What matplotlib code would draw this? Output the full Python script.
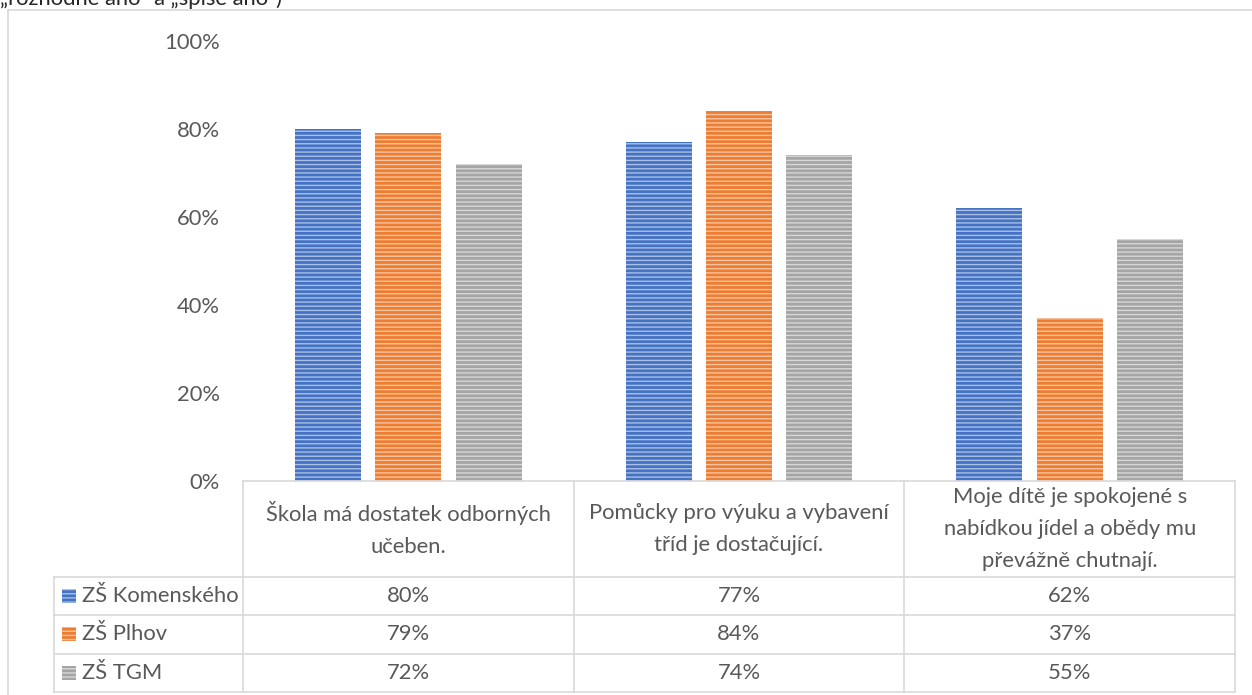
import matplotlib
matplotlib.use("Agg")
import matplotlib.pyplot as plt
from matplotlib.patches import Rectangle
from matplotlib.lines import Line2D
from matplotlib.colors import to_rgb
import numpy as np

# ---- data ----
categories = [
    "Škola má dostatek odborných\nučeben.",
    "Pomůcky pro výuku a vybavení\ntříd je dostačující.",
    "Moje dítě je spokojené s\nnabídkou jídel a obědy mu\npřevážně chutnají.",
]
series_names = ["ZŠ Komenského", "ZŠ Plhov", "ZŠ TGM"]
komenskeho = [0.80, 0.77, 0.62]
plhov = [0.79, 0.84, 0.37]
tgm = [0.72, 0.74, 0.55]
series_values = [komenskeho, plhov, tgm]
y_ticks = [0, 0.2, 0.4, 0.6, 0.8, 1.0]
y_tick_labels = ["0%", "20%", "40%", "60%", "80%", "100%"]
top_caption = "„rozhodně ano“ a „spíše ano“)"

colors = ["#4472C4", "#ED7D31", "#A5A5A5"]
text_color = "#595959"
grid_color = "#D9D9D9"

def lighten(c, f=0.55):
    r, g, b = to_rgb(c)
    return (r + (1 - r) * f, g + (1 - g) * f, b + (1 - b) * f)

plt.rcParams['font.family'] = ['Lato', 'DejaVu Sans']
plt.rcParams['hatch.linewidth'] = 1.0
FS = 15.8

W, H = 1252, 695
fig = plt.figure(figsize=(W / 100, H / 100), dpi=100)

def fx(px):
    return px / W

def fy(py):
    return 1 - py / H

# outer chart border (left and top, the rest is cropped)
fig.add_artist(Line2D([fx(8), fx(8)], [fy(10), 0], color=grid_color, lw=1.2))
fig.add_artist(Line2D([fx(8), 1], [fy(10), fy(10)], color=grid_color, lw=1.2))
fig.text(fx(0), fy(5), top_caption, fontsize=FS, color="#262626",
         ha="left", va="baseline")

# ---- bar axes ----
L, R, T, B = 243, 1235, 41, 481
ax = fig.add_axes([fx(L), fy(B), fx(R - L), (B - T) / H])
ax.set_xlim(-0.5, len(categories) - 0.5)
ax.set_ylim(0, 1)
x = np.arange(len(categories))
bw = 0.2
step = 0.243
for i, (name, vals) in enumerate(zip(series_names, series_values)):
    ax.bar(x + (i - 1) * step, vals, width=bw, color=colors[i],
           edgecolor=lighten(colors[i]), linewidth=0, hatch="----")
for s in ax.spines.values():
    s.set_visible(False)
ax.set_xticks([])
ax.set_yticks(y_ticks)
ax.set_yticklabels(y_tick_labels, fontsize=FS, color=text_color)
ax.tick_params(axis="y", length=0, pad=16.5)
ax.patch.set_alpha(0)

# ---- data table axes ----
TL, TB = 54, 692
unit = (R - L) / len(categories)
tax = fig.add_axes([fx(TL), fy(TB), fx(R - TL), (TB - B) / H])
x_left = -0.5 - (L - TL) / unit
tax.set_xlim(x_left, len(categories) - 0.5)
n_rows = len(series_names)
header_h = 2.5
tax.set_ylim(0, n_rows + header_h)
tax.axis("off")

lw = 1.2
top_y = n_rows + header_h
tax.plot([-0.5, len(categories) - 0.5], [top_y, top_y], color=grid_color, lw=lw, clip_on=False)
for r in range(n_rows + 1):
    tax.plot([x_left, len(categories) - 0.5], [r, r], color=grid_color, lw=lw, clip_on=False)
tax.plot([x_left, x_left], [0, n_rows], color=grid_color, lw=lw, clip_on=False)
for c in range(len(categories) + 1):
    tax.plot([c - 0.5, c - 0.5], [0, top_y], color=grid_color, lw=lw, clip_on=False)

for c, cat in enumerate(categories):
    tax.text(c, n_rows + header_h / 2, cat, ha="center", va="center",
             fontsize=FS, color=text_color, linespacing=1.73)

key_w = 14 / unit
key_h = 14 / ((TB - B) / (n_rows + header_h))
for i, (name, vals) in enumerate(zip(series_names, series_values)):
    yc = n_rows - i - 0.5
    tax.add_patch(Rectangle((x_left + 8 / unit, yc - key_h / 2), key_w, key_h,
                            facecolor=colors[i], edgecolor=lighten(colors[i]),
                            linewidth=0, hatch="----", clip_on=False))
    tax.text(x_left + 28 / unit, yc, name, ha="left", va="center",
             fontsize=FS, color=text_color)
    for c, v in enumerate(vals):
        tax.text(c, yc, f"{round(v * 100)}%", ha="center", va="center",
                 fontsize=FS, color=text_color)

fig.savefig("out.png", dpi=100)
